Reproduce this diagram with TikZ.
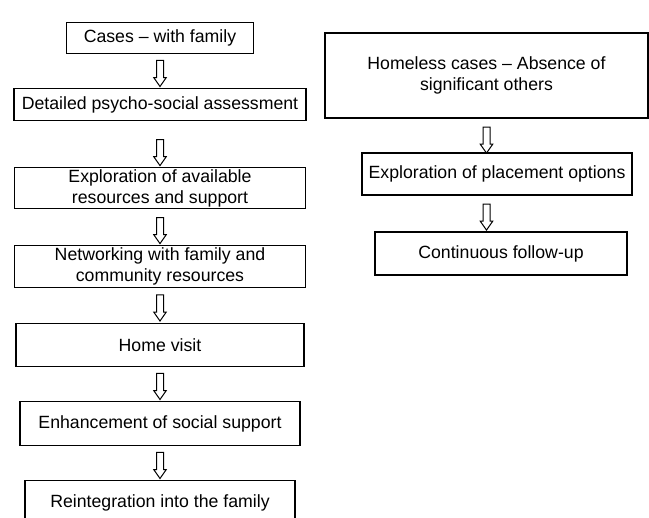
\documentclass[tikz,border=0pt]{standalone}
\usepackage{fontspec}
\setmainfont{Liberation Sans}
\usetikzlibrary{positioning,shapes.arrows}

\begin{document}
\begin{tikzpicture}[x = 1pt, y = 1pt,
stage/.style = {draw, shape = rectangle, line width = 1.3pt, align = center, inner sep = 0pt, outer sep = 0pt, font = \fontsize{17.7}{21}\selectfont},
flow/.style = {draw, shape = single arrow, rotate = -90, line width = 1pt, inner xsep = 0pt, inner ysep = 3pt, minimum height = 26pt, minimum width = 0pt, single arrow head extend = 2.75pt, single arrow tip angle = 70}]
\useasboundingbox (0,0) rectangle (649,-518);
\node[stage, minimum width = 187pt, minimum height = 31pt] (1) at (160,-38) {Cases -- with family};
\node[stage, minimum width = 292pt, minimum height = 32pt, below = 35pt of 1] (2) {Detailed psycho-social assessment};
\node[stage, minimum width = 291pt, minimum height = 41pt, below = 47pt of 2] (3) {Exploration of available\\resources and support};
\node[stage, minimum width = 291pt, minimum height = 42pt, below = 37pt of 3] (4) {Networking with family and\\community resources};
\node[stage, minimum width = 288pt, minimum height = 43pt, below = 36pt of 4] (5) {Home visit};
\node[stage, minimum width = 280pt, minimum height = 44pt, below = 35pt of 5] (6) {Enhancement of social support};
\node[stage, minimum width = 270pt, minimum height = 44pt, below = 35pt of 6] (7) {Reintegration into the family};
\node[stage, minimum width = 323pt, minimum height = 85pt] (8) at (486.5,-75.5) {Homeless cases -- Absence of\\significant others};
\node[stage, minimum width = 270pt, minimum height = 42pt, below = 35pt of 8, xshift = 10.5pt] (9) {Exploration of placement options};
\node[stage, minimum width = 252pt, minimum height = 43pt, below = 37pt of 9, xshift = 4pt] (10) {Continuous follow-up};
\begin{scope}[nodes = {flow}]
\path (1.south) -- (2.north) node [midway] {};
\path (2.south) -- (3.north) node [pos = 0.63] {};
\path (3.south) -- (4.north) node [pos = 0.53] {};
\path (4.south) -- (5.north) node [midway] {};
\path (5.south) -- (6.north) node [midway] {};
\path (6.south) -- (7.north) node [midway] {};
\path (8.south) -- (8.south |- 9.north) node [pos = 0.56] {};
\path (8.south |- 9.south) -- (8.south |- 10.north) node [pos = 0.53] {};
\end{scope}
\end{tikzpicture}
\end{document}
